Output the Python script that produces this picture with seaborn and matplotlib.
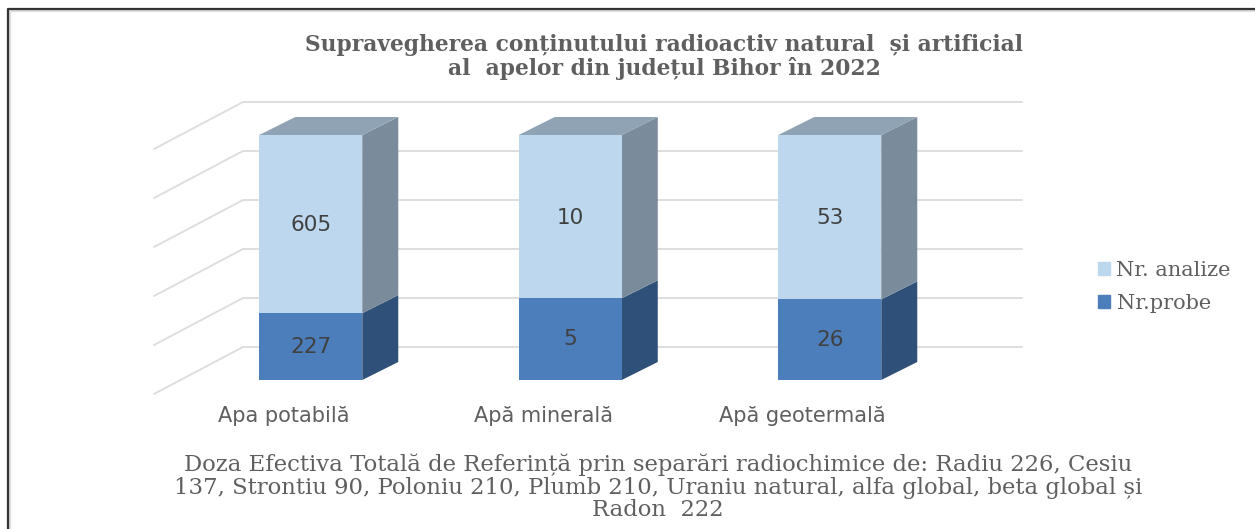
import numpy as np
import pandas as pd
import matplotlib
matplotlib.use("Agg")
import matplotlib.pyplot as plt
import seaborn as sns

CATEGORIES = ["Apa potabilă", "Apă minerală", "Apă geotermală"]
NR_PROBE = [227, 5, 26]
NR_ANALIZE = [605, 10, 53]
SERIES_NAMES = ["Nr. analize", "Nr.probe"]
PERCENT_TICKS = [0, 20, 40, 60, 80, 100]
TITLE = "Supravegherea conținutului radioactiv natural  și artificial\nal  apelor din județul Bihor în 2022"
FOOTER = ("Doza Efectiva Totală de Referință prin separări radiochimice de: Radiu 226, Cesiu\n"
          "137, Strontiu 90, Poloniu 210, Plumb 210, Uraniu natural, alfa global, beta global și\n"
          "Radon  222")

W, H = 1255, 529
GREY_TEXT = "#5f5f5f"
LIGHT, LIGHT_SIDE, LIGHT_TOP = "#bdd7ee", "#7a8b9b", "#8fa3b5"
DARK, DARK_SIDE = "#4c7ebc", "#2f5078"

sns.set_theme(style="white")
# the source text is stretched sideways, DejaVu Serif is the closest wide serif
plt.rcParams['font.family'] = ['DejaVu Serif']

df = pd.DataFrame({"cat": CATEGORIES, "probe": NR_PROBE, "analize": NR_ANALIZE})
df["total"] = df["probe"] + df["analize"]
df["share_probe"] = 100 * df["probe"] / df["total"]

fig = plt.figure(figsize=(W / 100, H / 100), dpi=100)
# axes box: category slots 259.5 px wide, 0-100 % spans y 380..135
ax = fig.add_axes([181 / W, 1 - 380 / H, 778.5 / W, 245 / H])

# full height bar first, bottom segment on top of it
sns.barplot(data=df, x="cat", y=[100] * 3, color=LIGHT, saturation=1, width=0.397, linewidth=0, ax=ax, zorder=3)
sns.barplot(data=df, x="cat", y="share_probe", color=DARK, saturation=1, width=0.397, linewidth=0, ax=ax, zorder=3)
ax.set_xlim(-0.5, 2.5)
ax.set_ylim(0, 100)
ax.axis("off")

# 3D offsets, converted from pixels to data units
px_x = 3 / 778.5
px_y = 100 / 245
dep_x, dep_y = 36 * px_x, 18 * px_y
wall_y = 33 * px_y
wall_left = (243 - 181) * px_x - 0.5
wall_right = (1022 - 181) * px_x - 0.5
side_x, side_y = 89 * px_x, 47 * px_y

grid = "#dedede"
for t in PERCENT_TICKS:
    y = t + wall_y
    ax.plot([wall_left - side_x, wall_left, wall_right], [y - side_y, y, y],
            color=grid, lw=1.4, clip_on=False, zorder=1, solid_joinstyle="miter")

half = 0.1985
for i, share in enumerate(df["share_probe"]):
    right = i + half
    left = i - half
    ax.fill([right, right + dep_x, right + dep_x, right], [0, dep_y, share + dep_y, share],
            color=DARK_SIDE, lw=0, clip_on=False, zorder=2.5)
    ax.fill([right, right + dep_x, right + dep_x, right], [share, share + dep_y, 100 + dep_y, 100],
            color=LIGHT_SIDE, lw=0, clip_on=False, zorder=2.5)
    ax.fill([left, left + dep_x, right + dep_x, right], [100, 100 + dep_y, 100 + dep_y, 100],
            color=LIGHT_TOP, lw=0, clip_on=False, zorder=2.5)
    ax.text(i, share / 2, str(NR_PROBE[i]), ha="center", va="center", fontsize=15.5,
            family="DejaVu Sans", color="#404040", zorder=5)
    ax.text(i, share + (100 - share) / 2 - 0.4, str(NR_ANALIZE[i]), ha="center", va="center", fontsize=15.5,
            family="DejaVu Sans", color="#404040", zorder=5)
    ax.text(i - 0.104, -14.7, CATEGORIES[i], ha="center", va="center", fontsize=15,
            family="DejaVu Sans", color=GREY_TEXT, clip_on=False)

# frame of the pasted chart, only left and top are visible, with a soft inner shadow
fig.add_artist(plt.Line2D([10 / W, 10 / W, 1], [0, 1 - 11 / H, 1 - 11 / H], color="#dddddd", lw=1.6))
fig.add_artist(plt.Line2D([7.5 / W, 7.5 / W, 1], [0, 1 - 8.5 / H, 1 - 8.5 / H], color="#333333", lw=1.6))

fig.text(664 / W, 1 - 57 / H, TITLE, ha="center", va="center", fontsize=15.7, fontweight="bold",
         color=GREY_TEXT, linespacing=1.0)
fig.text(658 / W, 1 - 487.5 / H, FOOTER, ha="center", va="center", fontsize=16.4,
         color=GREY_TEXT, linespacing=1.03)

# legend
handles = [plt.Rectangle((0, 0), 1, 1, color=LIGHT), plt.Rectangle((0, 0), 1, 1, color=DARK)]
fig.legend(handles, SERIES_NAMES, loc="center left", bbox_to_anchor=(1079 / W, 1 - 287 / H), frameon=False,
           fontsize=15, labelcolor=GREY_TEXT, handlelength=0.6, handleheight=0.6, handletextpad=0.3,
           labelspacing=0.68)

fig.savefig("out.png", dpi=100)
